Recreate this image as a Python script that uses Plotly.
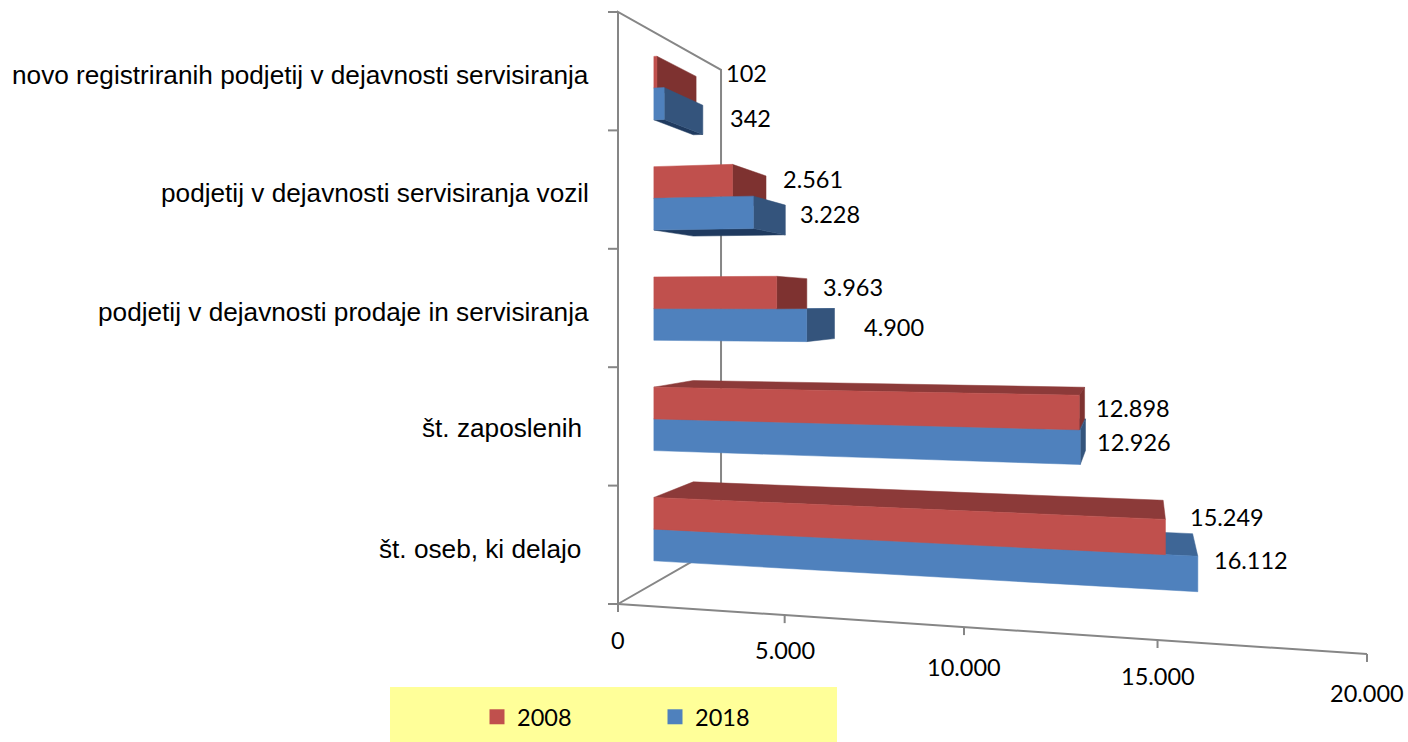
import plotly.graph_objects as go

# ---------- data ----------
CATEGORIES = [
    "št. oseb, ki delajo ",
    "št. zaposlenih ",
    "podjetij v dejavnosti prodaje in servisiranja",
    "podjetij v dejavnosti servisiranja vozil",
    "novo registriranih podjetij v dejavnosti servisiranja",
]
VALUES_2008 = [15249, 12898, 3963, 2561, 102]
VALUES_2018 = [16112, 12926, 4900, 3228, 342]
VALUE_TICKS = [0, 5000, 10000, 15000, 20000]
AXIS_MAX = 20000

# ---------- style / layout ----------
W, H = 1408, 742
RED = dict(front="#C0504D", top="#8C3A39", side="#7E3230", bottom="#5F2524")
BLUE = dict(front="#4F81BD", top="#3E6696", side="#34547C", bottom="#1F3A5F")
AXIS_COLOR = "#868686"
LABEL_FONT = "Lato, 'Open Sans', sans-serif"
CAT_FONT = "'Liberation Sans', Arial, sans-serif"
DEPTH_FRONT, DEPTH_BACK = 0.30, 0.685
BAR_HALF = 0.0575
BAR_SHIFT = -0.0015

CAT_LABEL_Y = [549, 428, 312, 193, 75]
CAT_LABEL_RIGHT = [591, 591, 591, 591, 591]
LABEL_POS_2008 = [(1227, 517), (1133, 408), (853, 287), (813, 179), (746, 73)]
LABEL_POS_2018 = [(1251, 560), (1134, 442), (894, 327), (830, 214), (750, 118)]
TICK_LABEL_POS = [(618, 640), (785, 650), (964, 667), (1158, 676), (1367, 693)]


def project(value, depth, height):
    """Perspective of the chart box: value, depth 0..1, height 0..1 -> page pixels."""
    u = value / AXIS_MAX
    w = 1 - 0.1414 * u + 0.246 * depth
    x = (618 + 555.7 * u + 280.4 * depth) / w
    y = (604 - 42.5 * u + 75 * depth - 592 * height) / w
    return x, y


def dotted(v):
    return f"{v:,}".replace(",", ".")


fig = go.Figure()


def line(points, name):
    xs, ys = zip(*points)
    fig.add_trace(go.Scatter(x=xs, y=ys, mode="lines", name=name, showlegend=False, hoverinfo="skip",
                             line=dict(color=AXIS_COLOR, width=2)))


def face(points, color, name):
    xs, ys = zip(*points)
    fig.add_trace(go.Scatter(x=list(xs) + [xs[0]], y=list(ys) + [ys[0]], mode="lines", fill="toself",
                             fillcolor=color, name=name, showlegend=False, hoverinfo="skip",
                             line=dict(color=color, width=0.5)))


def bar(value, low, high, colors, name):
    fl0, fl1 = project(0, DEPTH_FRONT, low), project(0, DEPTH_FRONT, high)
    fr0, fr1 = project(value, DEPTH_FRONT, low), project(value, DEPTH_FRONT, high)
    bl0, bl1 = project(0, DEPTH_BACK, low), project(0, DEPTH_BACK, high)
    br0, br1 = project(value, DEPTH_BACK, low), project(value, DEPTH_BACK, high)
    if fl1[1] > bl1[1]:
        face([fl1, fr1, br1, bl1], colors["top"], name + " top")
    if fl0[1] < bl0[1]:
        face([fl0, fr0, br0, bl0], colors["bottom"], name + " bottom")
    if fr0[0] < br0[0]:
        face([fr0, fr1, br1, br0], colors["side"], name + " side")
    face([fl0, fr0, fr1, fl1], colors["front"], name + " front")


# chart box lines
line([project(0, 0, 0), project(0, 0, 1), project(0, 1, 1), project(0, 1, 0), project(0, 0, 0)], "walls")
line([project(0, 0, 0), project(AXIS_MAX, 0, 0)], "value axis")

n = len(CATEGORIES)
for i in range(n + 1):
    x, y = project(0, 0, i / n)
    line([(x - 10, y), (x, y)], "category tick")
for t in VALUE_TICKS:
    x, y = project(t, 0, 0)
    line([(x, y), (x, y + 8)], "value tick")

# bars: the bar nearer to the eye level is painted first
for i, cat in enumerate(CATEGORIES):
    centre = (i + 0.5) / n + BAR_SHIFT
    pair = [(VALUES_2018[i], centre - BAR_HALF, centre, BLUE, "2018"),
            (VALUES_2008[i], centre, centre + BAR_HALF, RED, "2008")]
    if project(0, DEPTH_FRONT, centre)[1] < 300:
        pair.reverse()
    for v, lo, hi, colors, nm in pair:
        bar(v, lo, hi, colors, f"{nm} {cat.strip()}")

# legend entries
for nm, c in (("2008", RED["front"]), ("2018", BLUE["front"])):
    fig.add_trace(go.Scatter(x=[None], y=[None], mode="markers", name=nm,
                             marker=dict(symbol="square", size=15, color=c)))

ann = []
for cat, y, r in zip(CATEGORIES, CAT_LABEL_Y, CAT_LABEL_RIGHT):
    ann.append(dict(x=r, y=y, text=cat.replace(" ", "\u00a0") if cat.endswith(" ") else cat, xanchor="right",
                    yanchor="middle", showarrow=False, font=dict(family=CAT_FONT, size=26.2, color="#000")))
for vals, pos in ((VALUES_2008, LABEL_POS_2008), (VALUES_2018, LABEL_POS_2018)):
    for v, (x, y) in zip(vals, pos):
        ann.append(dict(x=x, y=y, text=dotted(v), showarrow=False,
                        font=dict(family=LABEL_FONT, size=23.5, color="#000")))
for t, (x, y) in zip(VALUE_TICKS, TICK_LABEL_POS):
    ann.append(dict(x=x, y=y, text=dotted(t), showarrow=False,
                    font=dict(family=LABEL_FONT, size=23.5, color="#000")))

fig.update_layout(
    width=W, height=H, autosize=False, margin=dict(l=0, r=0, t=0, b=0, autoexpand=False),
    paper_bgcolor="white", plot_bgcolor="white",
    xaxis=dict(range=[0, W], visible=False, fixedrange=True),
    yaxis=dict(range=[H, 0], visible=False, fixedrange=True),
    annotations=ann,
    shapes=[dict(type="rect", xref="x", yref="y", x0=390, x1=837, y0=687, y1=742,
                 fillcolor="#FFFF99", line_width=0, layer="below")],
    showlegend=True,
    legend=dict(orientation="h", x=477 / W, y=(H - 695) / H, xanchor="left", yanchor="top",
                bgcolor="rgba(0,0,0,0)", itemwidth=30, entrywidth=133, entrywidthmode="pixels",
                font=dict(family=LABEL_FONT, size=23.5, color="#000")),
)

fig.write_html("out.html", config={"displayModeBar": False},
               post_script="document.body.style.margin='0';document.body.style.overflow='hidden';")
